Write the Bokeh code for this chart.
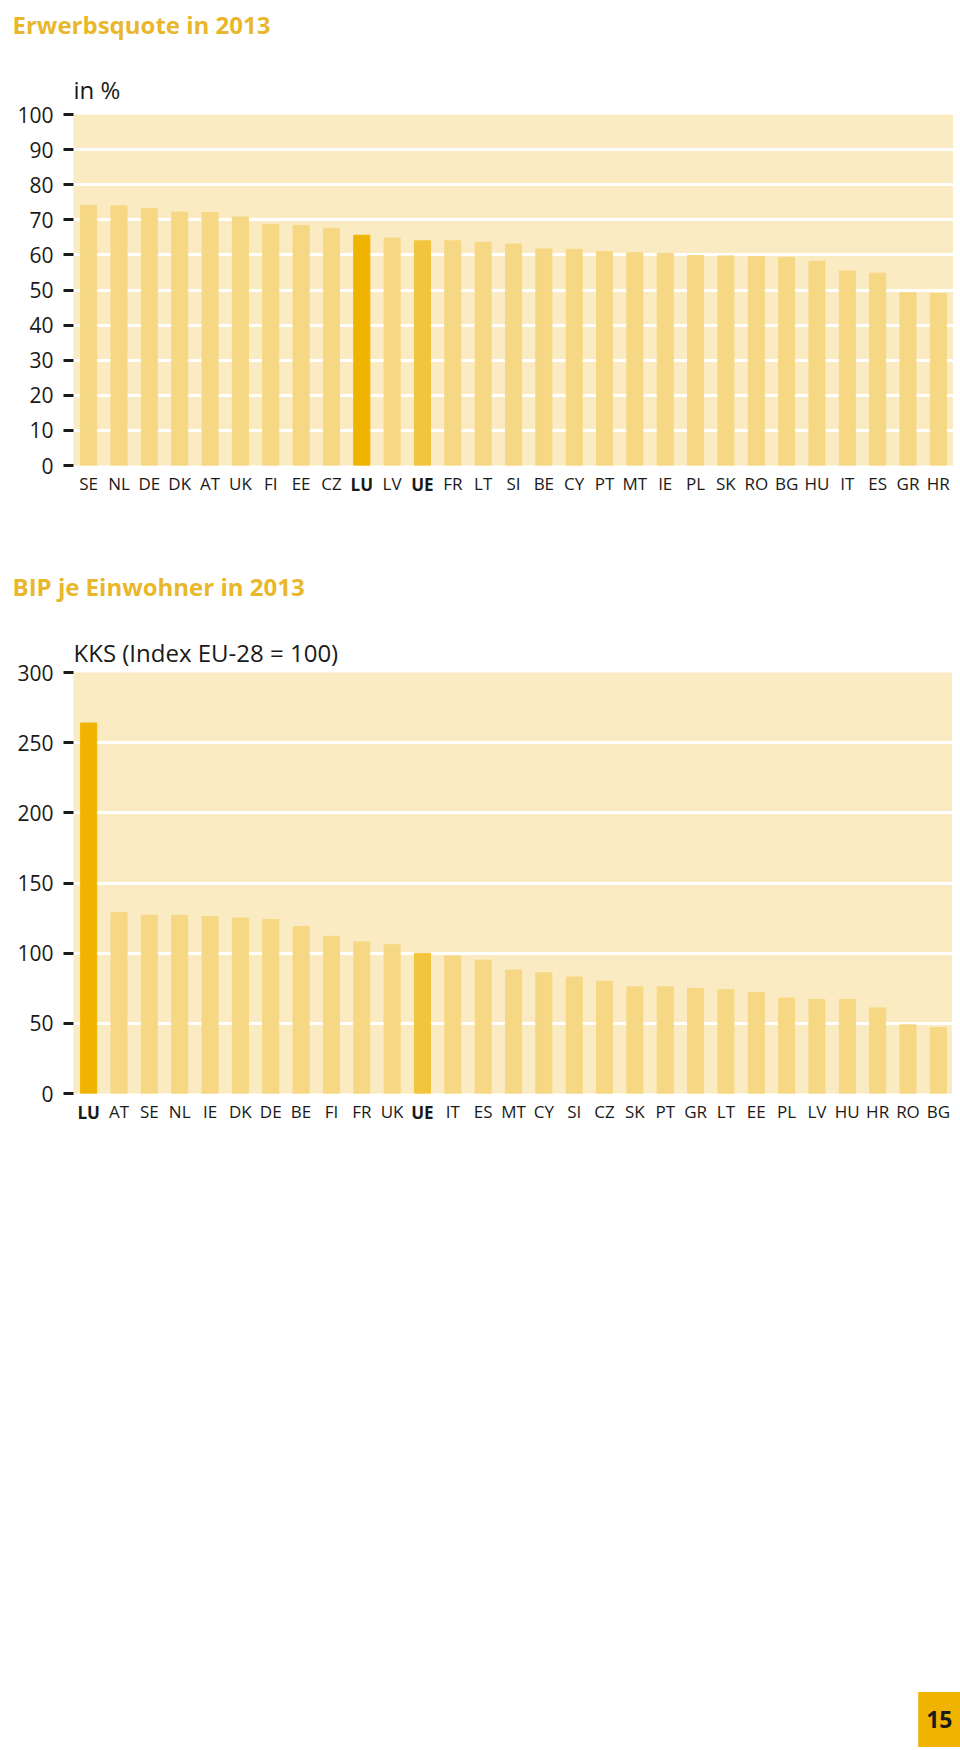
from bokeh.plotting import figure
from bokeh.models import ColumnDataSource, FixedTicker, Label, LinearAxis, Title, Range1d, Spacer
from bokeh.layouts import column
from bokeh.embed import file_html
from bokeh.resources import INLINE

# ---------------- data ----------------
erw_countries = ["SE", "NL", "DE", "DK", "AT", "UK", "FI", "EE", "CZ", "LU", "LV", "UE", "FR", "LT",
                 "SI", "BE", "CY", "PT", "MT", "IE", "PL", "SK", "RO", "BG", "HU", "IT", "ES", "GR", "HR"]
erw_values = [74.1, 74.0, 73.2, 72.2, 72.1, 70.8, 68.7, 68.4, 67.6, 65.6, 64.8, 64.0, 64.0, 63.6,
              63.1, 61.7, 61.6, 61.0, 60.6, 60.4, 59.8, 59.7, 59.5, 59.3, 58.2, 55.4, 54.8, 49.2, 49.0]
erw_ticks = [0, 10, 20, 30, 40, 50, 60, 70, 80, 90, 100]

bip_countries = ["LU", "AT", "SE", "NL", "IE", "DK", "DE", "BE", "FI", "FR", "UK", "UE", "IT", "ES",
                 "MT", "CY", "SI", "CZ", "SK", "PT", "GR", "LT", "EE", "PL", "LV", "HU", "HR", "RO", "BG"]
bip_values = [264, 129, 127, 127, 126, 125, 124, 119, 112, 108, 106, 100, 98, 95,
              88, 86, 83, 80, 76, 76, 75, 74, 72, 68, 67, 67, 61, 49, 47]
bip_ticks = [0, 50, 100, 150, 200, 250, 300]

highlight = ["LU", "UE"]
page_number = "15"

# ---------------- style ----------------
TITLE_COLOR = "#E8B72B"
BG = "#FBEBC2"
LIGHT = "#F6D884"
LU_C = "#F0B400"
UE_C = "#F2C53D"
FONT = "Open Sans"
TXT = "#1a1a1a"
XLAB_STANDOFF = 0
XLAB_H = 31


def bar_colors(cats):
    return [LU_C if c == "LU" else UE_C if c == "UE" else LIGHT for c in cats]


def style_xaxis(ax, bold, standoff):
    ax.axis_line_color = None
    ax.major_tick_line_color = None
    ax.minor_tick_line_color = None
    ax.major_label_standoff = standoff
    ax.major_label_text_font = FONT
    ax.major_label_text_font_size = "17px"
    ax.major_label_text_color = TXT
    if bold:
        ax.major_label_text_font_style = "bold"


def heading(text, height):
    t = figure(width=953, height=height, min_border_left=73, min_border_right=0,
               min_border_top=0, min_border_bottom=0,
               x_axis_type=None, y_axis_type=None,
               output_backend="svg", toolbar_location=None)
    t.outline_line_color = None
    t.grid.grid_line_color = None
    t.title.text = text
    t.title.align = "left"
    t.title.offset = -61
    t.title.standoff = 0
    t.title.text_font = FONT
    t.title.text_font_size = "24px"
    t.title.text_font_style = "bold"
    t.title.text_color = TITLE_COLOR
    return t


def make_chart(cats, vals, ticks, ymax, grid_ticks, unit,
               frame_w, frame_h, left, top, bottom, unit_standoff):
    n = len(cats)
    pos = list(range(n))
    p = figure(x_range=Range1d(-0.5, n - 0.5), y_range=(0, ymax),
               frame_width=frame_w, frame_height=frame_h,
               min_border_left=left, min_border_right=0,
               min_border_top=top, min_border_bottom=bottom,
               x_axis_type=None,
               output_backend="svg", toolbar_location=None)
    p.background_fill_color = BG
    p.border_fill_color = "white"
    p.outline_line_color = None

    src = ColumnDataSource(dict(x=pos, top=vals, color=bar_colors(cats)))
    p.vbar(x="x", top="top", width=0.53, color="color", source=src)

    # y axis
    p.yaxis.ticker = FixedTicker(ticks=ticks)
    p.yaxis.axis_line_color = None
    p.yaxis.major_tick_in = 0
    p.yaxis.major_tick_out = 10
    p.yaxis.major_tick_line_width = 3
    p.yaxis.major_tick_line_color = TXT
    p.yaxis.minor_tick_line_color = None
    p.yaxis.major_label_standoff = 10
    p.yaxis.major_label_text_font = FONT
    p.yaxis.major_label_text_font_size = "21px"
    p.yaxis.major_label_text_color = TXT

    # x axes: regular labels, and bold labels for highlighted categories (same row)
    reg = [i for i, c in zip(pos, cats) if c not in highlight]
    hl = [i for i, c in zip(pos, cats) if c in highlight]
    ax_reg = LinearAxis(ticker=FixedTicker(ticks=reg),
                        major_label_overrides={i: cats[i] for i in reg})
    style_xaxis(ax_reg, False, XLAB_STANDOFF)
    p.add_layout(ax_reg, "below")
    ax_hl = LinearAxis(ticker=FixedTicker(ticks=hl),
                       major_label_overrides={i: cats[i] for i in hl})
    style_xaxis(ax_hl, True, -XLAB_H)
    p.add_layout(ax_hl, "below")

    # grid
    p.ygrid.ticker = FixedTicker(ticks=grid_ticks)
    p.ygrid.grid_line_color = "white"
    p.ygrid.grid_line_width = 3

    # unit text above the frame
    p.add_layout(Title(text=unit, align="left", offset=0, standoff=unit_standoff,
                       text_font=FONT, text_font_size="24px", text_font_style="normal",
                       text_color=TXT), "above")
    return p


t1 = heading("Erwerbsquote in 2013", 45)
p1 = make_chart(erw_countries, erw_values, erw_ticks, 100, [10, 20, 30, 40, 50, 60, 70, 80, 90],
                "in %", frame_w=880, frame_h=351, left=73, top=64, bottom=102, unit_standoff=18)

t2 = heading("BIP je Einwohner in 2013", 45)
p2 = make_chart(bip_countries, bip_values, bip_ticks, 300, [50, 100, 150, 200, 250],
                "KKS (Index EU-28 = 100)", frame_w=880, frame_h=421, left=72, top=60, bottom=597,
                unit_standoff=7)

# page number box
p3 = figure(width=960, height=58, x_range=(0, 1), y_range=(0, 1),
            min_border=0, x_axis_type=None, y_axis_type=None,
            output_backend="svg", toolbar_location=None)
p3.outline_line_color = None
p3.grid.grid_line_color = None
p3.add_layout(Label(x=1, y=0.5, x_offset=0, text=page_number,
                    text_align="right", text_baseline="middle",
                    text_font=FONT, text_font_size="23px", text_font_style="bold",
                    text_color=TXT, background_fill_color=LU_C, padding=(8, 19)))

layout = column(Spacer(height=5), t1, p1, t2, p2, p3, spacing=0)
open("out.html", "w").write(file_html(layout, INLINE))
